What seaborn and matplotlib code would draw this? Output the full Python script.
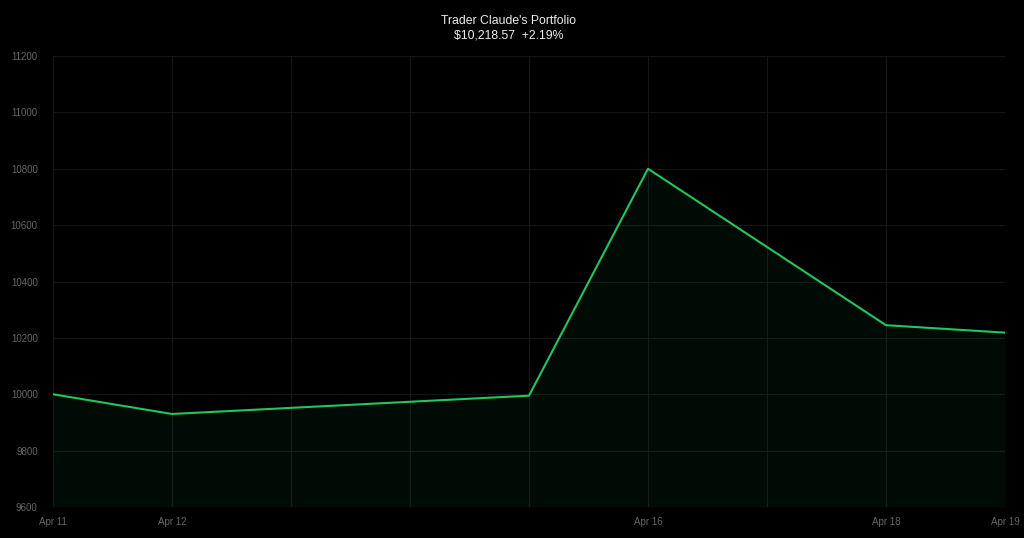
import pandas as pd
import seaborn as sns
import matplotlib.pyplot as plt
import matplotlib.dates as mdates


dates = ["2024-04-11", "2024-04-12", "2024-04-15", "2024-04-16", "2024-04-18", "2024-04-19"]
values = [10000, 9930, 9995, 10800, 10245, 10218.57]
tick_dates = ["2024-04-11", "2024-04-12", "2024-04-16", "2024-04-18", "2024-04-19"]
tick_labels = ["Apr 11", "Apr 12", "Apr 16", "Apr 18", "Apr 19"]

df = pd.DataFrame({"date": pd.to_datetime(dates), "value": values})

sns.set_style("dark")
plt.rcParams['font.family'] = ['Liberation Sans', 'DejaVu Sans']

fig = plt.figure(figsize=(10.24, 5.38), dpi=100, facecolor="black")
ax = fig.add_axes([53 / 1024, 1 - 507 / 538, (1005 - 53) / 1024, (507 - 56) / 538])
ax.set_facecolor("black")

green = "#22c55e"
sns.lineplot(data=df, x="date", y="value", ax=ax, color=green, linewidth=1.5)
ax.fill_between(df["date"], df["value"], 9600, color=green, alpha=0.06, linewidth=0)

ax.set_xlim(pd.Timestamp("2024-04-11"), pd.Timestamp("2024-04-19"))
ax.set_ylim(9600, 11200)
ax.set_yticks(range(9600, 11201, 200))

ax.set_xticks(pd.to_datetime(tick_dates))
ax.set_xticklabels(tick_labels)
ax.xaxis.set_minor_locator(mdates.DayLocator())
ax.grid(True, which="both", color="#151515", linewidth=0.8)
ax.set_axisbelow(True)

ax.tick_params(axis="both", which="both", length=0, colors="#666666", labelsize=7)
ax.tick_params(axis="x", pad=7)
ax.tick_params(axis="y", pad=11)
ax.set_xlabel("")
ax.set_ylabel("")
for s in ax.spines.values():
    s.set_visible(False)

fig.text(0.497, 1 - 21 / 538, "Trader Claude's Portfolio", color="#eeeeee",
         fontsize=8.8, ha="center", va="center")
fig.text(0.497, 1 - 36 / 538, "$10,218.57  +2.19%", color="#eeeeee",
         fontsize=8.8, ha="center", va="center")

fig.savefig("out.png", dpi=100, facecolor="black")
